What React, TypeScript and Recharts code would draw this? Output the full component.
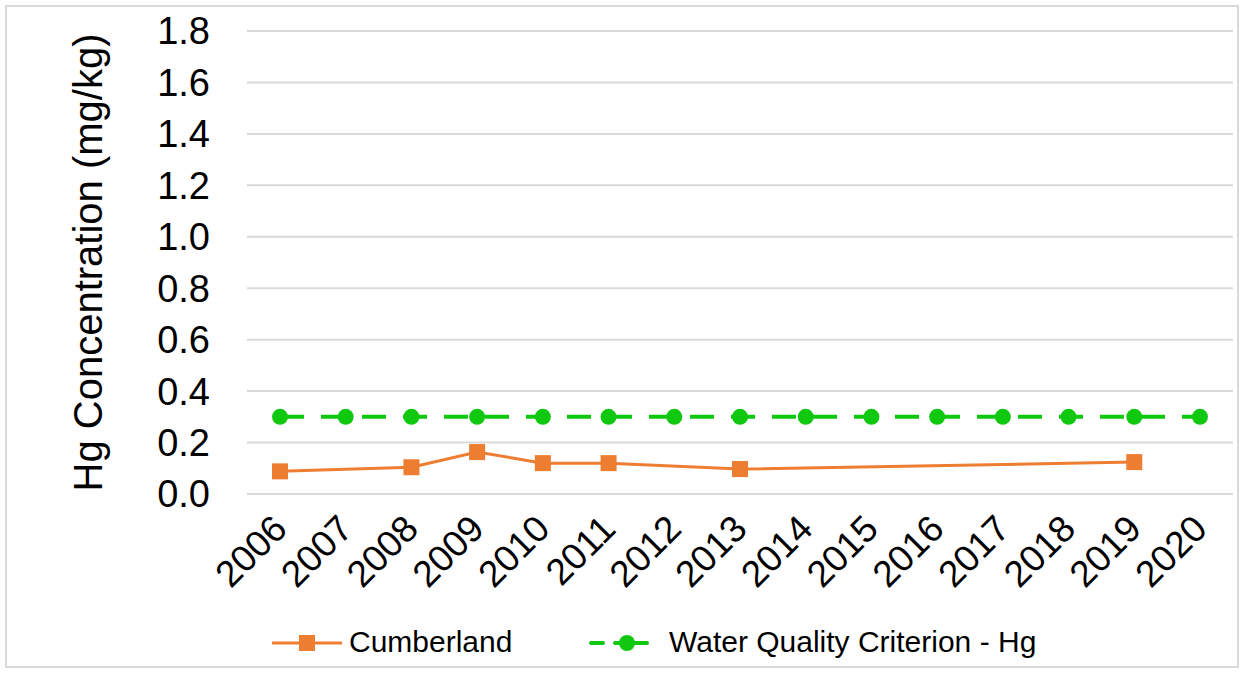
import { LineChart, Line, XAxis, YAxis, CartesianGrid, Legend } from 'recharts'

const years = ['2006', '2007', '2008', '2009', '2010', '2011', '2012', '2013', '2014', '2015', '2016', '2017', '2018', '2019', '2020']
const cumberland: (number | null)[] = [0.088, null, 0.104, 0.163, 0.12, 0.12, null, 0.097, null, null, null, null, null, 0.124, null]
const criterion = [0.3, 0.3, 0.3, 0.3, 0.3, 0.3, 0.3, 0.3, 0.3, 0.3, 0.3, 0.3, 0.3, 0.3, 0.3]
const yTicks = [0, 0.2, 0.4, 0.6, 0.8, 1.0, 1.2, 1.4, 1.6, 1.8]

const data = years.map((year, i) => ({ year, cumberland: cumberland[i], criterion: criterion[i] }))

const FONT = '"Liberation Sans", Arial, sans-serif'
const ORANGE = '#ed7d31'
const GREEN = '#11c811'

// rotated year labels, anchored at their end just right of the tick
const XTick = ({ x, y, payload }: any) => {
  const tx = x + 9
  const ty = y + 37
  return (
    <text x={tx} y={ty} textAnchor="end" fontSize={37} fontFamily={FONT} fill="#000" transform={`rotate(-45 ${tx} ${ty})`}>
      {payload.value}
    </text>
  )
}

const SquareDot = ({ cx, cy }: any) => {
  if (cx == null || cy == null) return null
  return <rect x={cx - 8} y={cy - 8} width={16} height={16} fill={ORANGE} />
}

const renderLegend = () => (
  <div style={{ height: 50, position: 'relative', fontFamily: FONT, fontSize: 30, color: '#000' }}>
    <svg width={80} height={30} style={{ position: 'absolute', left: 270, top: 5 }}>
      <line x1={2} y1={15} x2={72} y2={15} stroke={ORANGE} strokeWidth={3} />
      <rect x={29} y={7} width={16} height={16} fill={ORANGE} />
    </svg>
    <span style={{ position: 'absolute', left: 349, top: 2 }}>Cumberland</span>
    <svg width={70} height={30} style={{ position: 'absolute', left: 589, top: 5 }}>
      <line x1={2} y1={15} x2={14} y2={15} stroke={GREEN} strokeWidth={4} strokeLinecap="round" />
      <line x1={26} y1={15} x2={58} y2={15} stroke={GREEN} strokeWidth={4} strokeLinecap="round" />
      <circle cx={38} cy={15} r={8} fill={GREEN} />
    </svg>
    <span style={{ position: 'absolute', left: 669, top: 2 }}>Water Quality Criterion - Hg</span>
  </div>
)

export default function App() {
  return (
    <div style={{ position: 'absolute', left: 0, top: 0, width: 1244, height: 673, background: '#fff' }}>
      <div style={{ position: 'absolute', left: 5, top: 5, width: 1234, height: 663, border: '2px solid #d9d9d9', boxSizing: 'border-box' }} />
      <LineChart width={1244} height={673} data={data} margin={{ top: 31, right: 11, left: 0, bottom: 0 }}>
        <CartesianGrid vertical={false} stroke="#d9d9d9" strokeWidth={2} />
        <XAxis
          dataKey="year"
          height={129}
          padding={{ left: 33, right: 33 }}
          axisLine={false}
          tickLine={false}
          tickSize={0}
          tickMargin={0}
          interval={0}
          tick={<XTick />}
        />
        <YAxis
          width={247}
          domain={[0, 1.8]}
          ticks={yTicks}
          axisLine={false}
          tickLine={false}
          tickSize={0}
          tickMargin={37}
          tickFormatter={(v: number) => v.toFixed(1)}
          tick={{ fontSize: 38, fontFamily: FONT, fill: '#000' }}
          label={{
            content: ({ viewBox }: any) => {
              const cy = viewBox.y + viewBox.height / 2
              return (
                <text x={88} y={cy} textAnchor="middle" dominantBaseline="central" fontSize={40} fontFamily={FONT} fill="#000" transform={`rotate(-90 88 ${cy})`}>
                  Hg Concentration (mg/kg)
                </text>
              )
            },
          }}
        />
        <Legend verticalAlign="bottom" height={50} content={renderLegend} />
        <Line dataKey="cumberland" stroke={ORANGE} strokeWidth={3} connectNulls dot={<SquareDot />} activeDot={false} isAnimationActive={false} />
        <Line dataKey="criterion" stroke={GREEN} strokeWidth={4} strokeDasharray="24 17" dot={{ r: 8, fill: GREEN, stroke: 'none' }} activeDot={false} isAnimationActive={false} />
      </LineChart>
    </div>
  )
}
